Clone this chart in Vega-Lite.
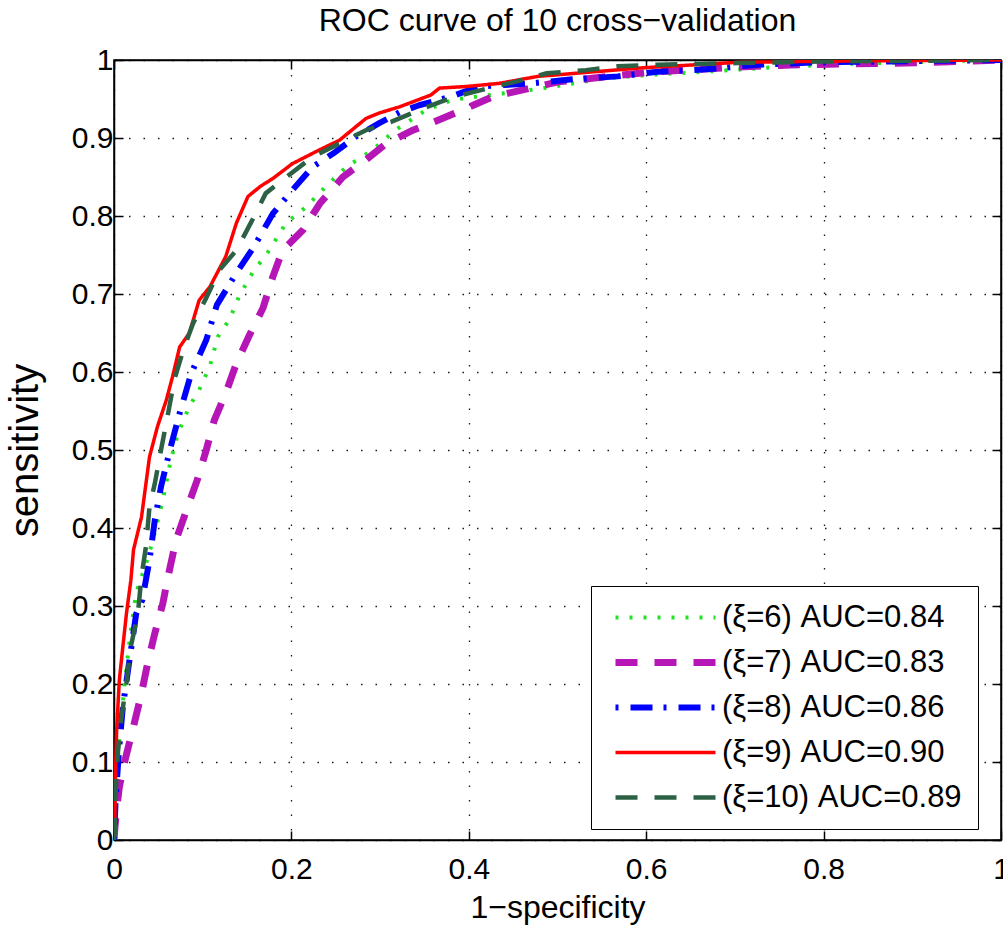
{
  "$schema": "https://vega.github.io/schema/vega-lite/v6.json",
  "width": 887,
  "height": 780,
  "autosize": "none",
  "padding": {"left": 114, "top": 60, "right": 2, "bottom": 87},
  "background": "white",
  "title": {"text": "ROC curve of 10 cross−validation", "fontSize": 32, "font": "Liberation Sans", "fontWeight": "normal", "color": "black", "offset": 7},
  "datasets": {
    "roc": [
      {"series": "(ξ=6) AUC=0.84", "x": 0, "y": 0},
      {"series": "(ξ=6) AUC=0.84", "x": 0.002, "y": 0.06},
      {"series": "(ξ=6) AUC=0.84", "x": 0.006, "y": 0.13},
      {"series": "(ξ=6) AUC=0.84", "x": 0.012, "y": 0.2},
      {"series": "(ξ=6) AUC=0.84", "x": 0.018, "y": 0.26},
      {"series": "(ξ=6) AUC=0.84", "x": 0.025, "y": 0.317},
      {"series": "(ξ=6) AUC=0.84", "x": 0.035, "y": 0.35},
      {"series": "(ξ=6) AUC=0.84", "x": 0.044, "y": 0.385},
      {"series": "(ξ=6) AUC=0.84", "x": 0.055, "y": 0.436},
      {"series": "(ξ=6) AUC=0.84", "x": 0.064, "y": 0.487},
      {"series": "(ξ=6) AUC=0.84", "x": 0.072, "y": 0.521},
      {"series": "(ξ=6) AUC=0.84", "x": 0.085, "y": 0.556},
      {"series": "(ξ=6) AUC=0.84", "x": 0.096, "y": 0.577},
      {"series": "(ξ=6) AUC=0.84", "x": 0.108, "y": 0.607},
      {"series": "(ξ=6) AUC=0.84", "x": 0.117, "y": 0.645},
      {"series": "(ξ=6) AUC=0.84", "x": 0.13, "y": 0.667},
      {"series": "(ξ=6) AUC=0.84", "x": 0.141, "y": 0.697},
      {"series": "(ξ=6) AUC=0.84", "x": 0.156, "y": 0.727},
      {"series": "(ξ=6) AUC=0.84", "x": 0.175, "y": 0.756},
      {"series": "(ξ=6) AUC=0.84", "x": 0.194, "y": 0.791},
      {"series": "(ξ=6) AUC=0.84", "x": 0.217, "y": 0.812},
      {"series": "(ξ=6) AUC=0.84", "x": 0.239, "y": 0.838},
      {"series": "(ξ=6) AUC=0.84", "x": 0.262, "y": 0.863},
      {"series": "(ξ=6) AUC=0.84", "x": 0.292, "y": 0.885},
      {"series": "(ξ=6) AUC=0.84", "x": 0.317, "y": 0.91},
      {"series": "(ξ=6) AUC=0.84", "x": 0.352, "y": 0.936},
      {"series": "(ξ=6) AUC=0.84", "x": 0.382, "y": 0.949},
      {"series": "(ξ=6) AUC=0.84", "x": 0.402, "y": 0.952},
      {"series": "(ξ=6) AUC=0.84", "x": 0.479, "y": 0.963},
      {"series": "(ξ=6) AUC=0.84", "x": 0.55, "y": 0.976},
      {"series": "(ξ=6) AUC=0.84", "x": 0.605, "y": 0.981},
      {"series": "(ξ=6) AUC=0.84", "x": 0.681, "y": 0.986},
      {"series": "(ξ=6) AUC=0.84", "x": 0.748, "y": 0.991},
      {"series": "(ξ=6) AUC=0.84", "x": 0.829, "y": 0.995},
      {"series": "(ξ=6) AUC=0.84", "x": 0.92, "y": 0.998},
      {"series": "(ξ=6) AUC=0.84", "x": 1, "y": 1},

      {"series": "(ξ=7) AUC=0.83", "x": 0, "y": 0},
      {"series": "(ξ=7) AUC=0.83", "x": 0.002, "y": 0.03},
      {"series": "(ξ=7) AUC=0.83", "x": 0.006, "y": 0.068},
      {"series": "(ξ=7) AUC=0.83", "x": 0.013, "y": 0.105},
      {"series": "(ξ=7) AUC=0.83", "x": 0.021, "y": 0.141},
      {"series": "(ξ=7) AUC=0.83", "x": 0.031, "y": 0.188},
      {"series": "(ξ=7) AUC=0.83", "x": 0.038, "y": 0.227},
      {"series": "(ξ=7) AUC=0.83", "x": 0.046, "y": 0.265},
      {"series": "(ξ=7) AUC=0.83", "x": 0.055, "y": 0.303},
      {"series": "(ξ=7) AUC=0.83", "x": 0.061, "y": 0.338},
      {"series": "(ξ=7) AUC=0.83", "x": 0.07, "y": 0.385},
      {"series": "(ξ=7) AUC=0.83", "x": 0.083, "y": 0.427},
      {"series": "(ξ=7) AUC=0.83", "x": 0.094, "y": 0.462},
      {"series": "(ξ=7) AUC=0.83", "x": 0.104, "y": 0.5},
      {"series": "(ξ=7) AUC=0.83", "x": 0.113, "y": 0.538},
      {"series": "(ξ=7) AUC=0.83", "x": 0.126, "y": 0.573},
      {"series": "(ξ=7) AUC=0.83", "x": 0.138, "y": 0.611},
      {"series": "(ξ=7) AUC=0.83", "x": 0.153, "y": 0.648},
      {"series": "(ξ=7) AUC=0.83", "x": 0.168, "y": 0.682},
      {"series": "(ξ=7) AUC=0.83", "x": 0.179, "y": 0.722},
      {"series": "(ξ=7) AUC=0.83", "x": 0.19, "y": 0.756},
      {"series": "(ξ=7) AUC=0.83", "x": 0.213, "y": 0.782},
      {"series": "(ξ=7) AUC=0.83", "x": 0.232, "y": 0.816},
      {"series": "(ξ=7) AUC=0.83", "x": 0.258, "y": 0.85},
      {"series": "(ξ=7) AUC=0.83", "x": 0.284, "y": 0.872},
      {"series": "(ξ=7) AUC=0.83", "x": 0.307, "y": 0.893},
      {"series": "(ξ=7) AUC=0.83", "x": 0.337, "y": 0.91},
      {"series": "(ξ=7) AUC=0.83", "x": 0.37, "y": 0.925},
      {"series": "(ξ=7) AUC=0.83", "x": 0.401, "y": 0.94},
      {"series": "(ξ=7) AUC=0.83", "x": 0.427, "y": 0.953},
      {"series": "(ξ=7) AUC=0.83", "x": 0.501, "y": 0.972},
      {"series": "(ξ=7) AUC=0.83", "x": 0.6, "y": 0.984},
      {"series": "(ξ=7) AUC=0.83", "x": 0.703, "y": 0.991},
      {"series": "(ξ=7) AUC=0.83", "x": 0.77, "y": 0.994},
      {"series": "(ξ=7) AUC=0.83", "x": 0.892, "y": 0.996},
      {"series": "(ξ=7) AUC=0.83", "x": 1, "y": 1},

      {"series": "(ξ=8) AUC=0.86", "x": 0, "y": 0},
      {"series": "(ξ=8) AUC=0.86", "x": 0.002, "y": 0.056},
      {"series": "(ξ=8) AUC=0.86", "x": 0.006, "y": 0.12},
      {"series": "(ξ=8) AUC=0.86", "x": 0.01, "y": 0.171},
      {"series": "(ξ=8) AUC=0.86", "x": 0.017, "y": 0.227},
      {"series": "(ξ=8) AUC=0.86", "x": 0.025, "y": 0.29},
      {"series": "(ξ=8) AUC=0.86", "x": 0.032, "y": 0.308},
      {"series": "(ξ=8) AUC=0.86", "x": 0.04, "y": 0.359},
      {"series": "(ξ=8) AUC=0.86", "x": 0.046, "y": 0.41},
      {"series": "(ξ=8) AUC=0.86", "x": 0.053, "y": 0.453},
      {"series": "(ξ=8) AUC=0.86", "x": 0.063, "y": 0.5},
      {"series": "(ξ=8) AUC=0.86", "x": 0.074, "y": 0.547},
      {"series": "(ξ=8) AUC=0.86", "x": 0.087, "y": 0.598},
      {"series": "(ξ=8) AUC=0.86", "x": 0.104, "y": 0.641},
      {"series": "(ξ=8) AUC=0.86", "x": 0.116, "y": 0.686},
      {"series": "(ξ=8) AUC=0.86", "x": 0.138, "y": 0.727},
      {"series": "(ξ=8) AUC=0.86", "x": 0.158, "y": 0.761},
      {"series": "(ξ=8) AUC=0.86", "x": 0.179, "y": 0.803},
      {"series": "(ξ=8) AUC=0.86", "x": 0.201, "y": 0.833},
      {"series": "(ξ=8) AUC=0.86", "x": 0.224, "y": 0.863},
      {"series": "(ξ=8) AUC=0.86", "x": 0.247, "y": 0.88},
      {"series": "(ξ=8) AUC=0.86", "x": 0.273, "y": 0.902},
      {"series": "(ξ=8) AUC=0.86", "x": 0.299, "y": 0.919},
      {"series": "(ξ=8) AUC=0.86", "x": 0.322, "y": 0.933},
      {"series": "(ξ=8) AUC=0.86", "x": 0.344, "y": 0.942},
      {"series": "(ξ=8) AUC=0.86", "x": 0.38, "y": 0.953},
      {"series": "(ξ=8) AUC=0.86", "x": 0.411, "y": 0.966},
      {"series": "(ξ=8) AUC=0.86", "x": 0.47, "y": 0.97},
      {"series": "(ξ=8) AUC=0.86", "x": 0.514, "y": 0.975},
      {"series": "(ξ=8) AUC=0.86", "x": 0.568, "y": 0.979},
      {"series": "(ξ=8) AUC=0.86", "x": 0.613, "y": 0.985},
      {"series": "(ξ=8) AUC=0.86", "x": 0.667, "y": 0.988},
      {"series": "(ξ=8) AUC=0.86", "x": 0.726, "y": 0.994},
      {"series": "(ξ=8) AUC=0.86", "x": 0.793, "y": 0.997},
      {"series": "(ξ=8) AUC=0.86", "x": 0.86, "y": 0.998},
      {"series": "(ξ=8) AUC=0.86", "x": 1, "y": 1},

      {"series": "(ξ=9) AUC=0.90", "x": 0, "y": 0},
      {"series": "(ξ=9) AUC=0.90", "x": 0.001, "y": 0.03},
      {"series": "(ξ=9) AUC=0.90", "x": 0.002, "y": 0.1},
      {"series": "(ξ=9) AUC=0.90", "x": 0.003, "y": 0.141},
      {"series": "(ξ=9) AUC=0.90", "x": 0.006, "y": 0.205},
      {"series": "(ξ=9) AUC=0.90", "x": 0.01, "y": 0.248},
      {"series": "(ξ=9) AUC=0.90", "x": 0.014, "y": 0.29},
      {"series": "(ξ=9) AUC=0.90", "x": 0.019, "y": 0.333},
      {"series": "(ξ=9) AUC=0.90", "x": 0.022, "y": 0.372},
      {"series": "(ξ=9) AUC=0.90", "x": 0.031, "y": 0.414},
      {"series": "(ξ=9) AUC=0.90", "x": 0.04, "y": 0.491},
      {"series": "(ξ=9) AUC=0.90", "x": 0.049, "y": 0.53},
      {"series": "(ξ=9) AUC=0.90", "x": 0.059, "y": 0.564},
      {"series": "(ξ=9) AUC=0.90", "x": 0.066, "y": 0.594},
      {"series": "(ξ=9) AUC=0.90", "x": 0.074, "y": 0.632},
      {"series": "(ξ=9) AUC=0.90", "x": 0.085, "y": 0.65},
      {"series": "(ξ=9) AUC=0.90", "x": 0.096, "y": 0.692},
      {"series": "(ξ=9) AUC=0.90", "x": 0.108, "y": 0.709},
      {"series": "(ξ=9) AUC=0.90", "x": 0.126, "y": 0.748},
      {"series": "(ξ=9) AUC=0.90", "x": 0.138, "y": 0.791},
      {"series": "(ξ=9) AUC=0.90", "x": 0.151, "y": 0.825},
      {"series": "(ξ=9) AUC=0.90", "x": 0.165, "y": 0.838},
      {"series": "(ξ=9) AUC=0.90", "x": 0.179, "y": 0.848},
      {"series": "(ξ=9) AUC=0.90", "x": 0.201, "y": 0.867},
      {"series": "(ξ=9) AUC=0.90", "x": 0.232, "y": 0.885},
      {"series": "(ξ=9) AUC=0.90", "x": 0.254, "y": 0.897},
      {"series": "(ξ=9) AUC=0.90", "x": 0.284, "y": 0.925},
      {"series": "(ξ=9) AUC=0.90", "x": 0.299, "y": 0.932},
      {"series": "(ξ=9) AUC=0.90", "x": 0.322, "y": 0.94},
      {"series": "(ξ=9) AUC=0.90", "x": 0.357, "y": 0.955},
      {"series": "(ξ=9) AUC=0.90", "x": 0.367, "y": 0.964},
      {"series": "(ξ=9) AUC=0.90", "x": 0.397, "y": 0.966},
      {"series": "(ξ=9) AUC=0.90", "x": 0.434, "y": 0.97},
      {"series": "(ξ=9) AUC=0.90", "x": 0.478, "y": 0.979},
      {"series": "(ξ=9) AUC=0.90", "x": 0.596, "y": 0.99},
      {"series": "(ξ=9) AUC=0.90", "x": 0.703, "y": 0.997},
      {"series": "(ξ=9) AUC=0.90", "x": 0.85, "y": 0.999},
      {"series": "(ξ=9) AUC=0.90", "x": 1, "y": 1},

      {"series": "(ξ=10) AUC=0.89", "x": 0, "y": 0},
      {"series": "(ξ=10) AUC=0.89", "x": 0.001, "y": 0.01},
      {"series": "(ξ=10) AUC=0.89", "x": 0.002, "y": 0.064},
      {"series": "(ξ=10) AUC=0.89", "x": 0.004, "y": 0.107},
      {"series": "(ξ=10) AUC=0.89", "x": 0.008, "y": 0.154},
      {"series": "(ξ=10) AUC=0.89", "x": 0.014, "y": 0.201},
      {"series": "(ξ=10) AUC=0.89", "x": 0.019, "y": 0.248},
      {"series": "(ξ=10) AUC=0.89", "x": 0.027, "y": 0.291},
      {"series": "(ξ=10) AUC=0.89", "x": 0.031, "y": 0.338},
      {"series": "(ξ=10) AUC=0.89", "x": 0.036, "y": 0.376},
      {"series": "(ξ=10) AUC=0.89", "x": 0.04, "y": 0.427},
      {"series": "(ξ=10) AUC=0.89", "x": 0.046, "y": 0.457},
      {"series": "(ξ=10) AUC=0.89", "x": 0.053, "y": 0.5},
      {"series": "(ξ=10) AUC=0.89", "x": 0.061, "y": 0.547},
      {"series": "(ξ=10) AUC=0.89", "x": 0.068, "y": 0.59},
      {"series": "(ξ=10) AUC=0.89", "x": 0.078, "y": 0.628},
      {"series": "(ξ=10) AUC=0.89", "x": 0.089, "y": 0.662},
      {"series": "(ξ=10) AUC=0.89", "x": 0.104, "y": 0.695},
      {"series": "(ξ=10) AUC=0.89", "x": 0.119, "y": 0.731},
      {"series": "(ξ=10) AUC=0.89", "x": 0.138, "y": 0.756},
      {"series": "(ξ=10) AUC=0.89", "x": 0.156, "y": 0.795},
      {"series": "(ξ=10) AUC=0.89", "x": 0.171, "y": 0.829},
      {"series": "(ξ=10) AUC=0.89", "x": 0.19, "y": 0.846},
      {"series": "(ξ=10) AUC=0.89", "x": 0.224, "y": 0.876},
      {"series": "(ξ=10) AUC=0.89", "x": 0.254, "y": 0.893},
      {"series": "(ξ=10) AUC=0.89", "x": 0.284, "y": 0.91},
      {"series": "(ξ=10) AUC=0.89", "x": 0.313, "y": 0.921},
      {"series": "(ξ=10) AUC=0.89", "x": 0.349, "y": 0.938},
      {"series": "(ξ=10) AUC=0.89", "x": 0.384, "y": 0.953},
      {"series": "(ξ=10) AUC=0.89", "x": 0.416, "y": 0.962},
      {"series": "(ξ=10) AUC=0.89", "x": 0.452, "y": 0.972},
      {"series": "(ξ=10) AUC=0.89", "x": 0.488, "y": 0.983},
      {"series": "(ξ=10) AUC=0.89", "x": 0.532, "y": 0.987},
      {"series": "(ξ=10) AUC=0.89", "x": 0.568, "y": 0.992},
      {"series": "(ξ=10) AUC=0.89", "x": 0.614, "y": 0.994},
      {"series": "(ξ=10) AUC=0.89", "x": 0.703, "y": 0.996},
      {"series": "(ξ=10) AUC=0.89", "x": 0.793, "y": 0.998},
      {"series": "(ξ=10) AUC=0.89", "x": 0.9, "y": 0.999},
      {"series": "(ξ=10) AUC=0.89", "x": 1, "y": 1}
    ]
  },
  "data": {"name": "roc"},
  "layer": [
    {
      "mark": {"type": "line", "clip": true, "strokeCap": "butt", "strokeJoin": "round"},
      "encoding": {
        "x": {"field": "x", "type": "quantitative", "scale": {"domain": [0, 1], "nice": false, "zero": false}, "title": "1−specificity",
          "axis": {"values": [0, 0.2, 0.4, 0.6, 0.8, 1], "format": "~g", "grid": true, "titleFontSize": 32, "titlePadding": 8, "labelPadding": 23}},
        "y": {"field": "y", "type": "quantitative", "scale": {"domain": [0, 1], "nice": false, "zero": false}, "title": "sensitivity",
          "axis": {"values": [0, 0.1, 0.2, 0.3, 0.4, 0.5, 0.6, 0.7, 0.8, 0.9, 1], "format": "~g", "grid": true, "titleFontSize": 40, "titlePadding": 26, "labelPadding": 10}},
        "color": {"field": "series", "type": "nominal", "title": null,
          "scale": {"domain": ["(ξ=6) AUC=0.84", "(ξ=7) AUC=0.83", "(ξ=8) AUC=0.86", "(ξ=9) AUC=0.90", "(ξ=10) AUC=0.89"],
                    "range": ["#22e022", "#b516b5", "#0000ff", "#ff0000", "#2d6145"]}},
        "strokeDash": {"field": "series", "type": "nominal", "title": null,
          "scale": {"domain": ["(ξ=6) AUC=0.84", "(ξ=7) AUC=0.83", "(ξ=8) AUC=0.86", "(ξ=9) AUC=0.90", "(ξ=10) AUC=0.89"],
                    "range": [[3, 11], [22, 17], [3, 12, 22, 11], [1, 0], [22, 17]]}},
        "strokeWidth": {"field": "series", "type": "nominal", "title": null,
          "scale": {"type": "ordinal", "domain": ["(ξ=6) AUC=0.84", "(ξ=7) AUC=0.83", "(ξ=8) AUC=0.86", "(ξ=9) AUC=0.90", "(ξ=10) AUC=0.89"],
                    "range": [4, 7, 6, 3.5, 4.5]}}
      }
    },
    {
      "mark": {"type": "point", "opacity": 0},
      "encoding": {
        "x": {"field": "x", "type": "quantitative", "axis": {"orient": "top", "values": [0, 0.2, 0.4, 0.6, 0.8, 1], "labels": false, "title": null, "grid": false}},
        "y": {"field": "y", "type": "quantitative", "axis": {"orient": "right", "values": [0, 0.1, 0.2, 0.3, 0.4, 0.5, 0.6, 0.7, 0.8, 0.9, 1], "labels": false, "title": null, "grid": false}}
      }
    }
  ],
  "resolve": {"axis": {"x": "independent", "y": "independent"}},
  "config": {
    "view": {"stroke": "black", "strokeWidth": 1.5},
    "axis": {
      "domainColor": "black", "domainWidth": 1.5,
      "tickColor": "black", "tickWidth": 1.5, "tickSize": -9,
      "labelFont": "Liberation Sans", "labelFontSize": 30, "labelColor": "black",
      "labelFlush": false, "labelOverlap": false,
      "titleFont": "Liberation Sans", "titleFontWeight": "normal", "titleColor": "black",
      "gridColor": "black", "gridDash": [1.5, 13], "gridWidth": 1.3, "gridOpacity": 0.9
    },
    "legend": {
      "orient": "none", "legendX": 477, "legendY": 526,
      "fillColor": "white", "strokeColor": "black", "padding": 16,
      "symbolType": "M-0.7,0H9.3", "symbolSize": 400,
      "labelFont": "Liberation Sans", "labelFontSize": 31, "labelColor": "black",
      "labelOffset": 84, "labelLimit": 0, "rowPadding": 13
    }
  }
}
